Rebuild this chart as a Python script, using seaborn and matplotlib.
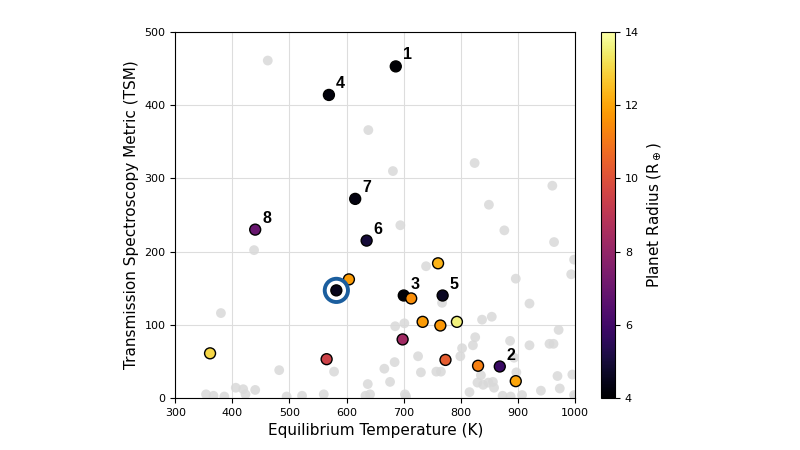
import numpy as np
import pandas as pd
import matplotlib
matplotlib.use("Agg")
import matplotlib.pyplot as plt
import seaborn as sns
from matplotlib.colors import Normalize

# Background planets (grey)
bg_teq = [462, 638, 681, 824, 960, 849, 694, 876, 963, 998, 739, 896, 993, 438,
          767, 920, 837, 854, 685, 701, 886, 971, 825, 821, 802, 799, 920, 955,
          962, 380, 482, 578, 725, 684, 666, 676, 637, 730, 757, 765, 835, 897,
          893, 829, 839, 856, 858, 848, 940, 969, 973, 995, 354, 367, 386, 406,
          419, 423, 440, 495, 522, 560, 633, 641, 702, 704, 815, 873, 887, 907,
          998, 1000]
bg_tsm = [461, 366, 310, 321, 290, 264, 236, 229, 213, 189, 180, 163, 169, 202,
          130, 129, 107, 111, 98, 102, 78, 93, 83, 72, 68, 57, 72, 74,
          74, 116, 38, 36, 57, 49, 40, 22, 19, 35, 36, 36, 31, 35,
          55, 21, 18, 22, 14, 21, 10, 30, 13, 32, 5, 3, 2, 14,
          12, 5, 11, 2, 3, 5, 3, 5, 5, 2, 8, 3, 2, 4,
          4, 2]

# Highlighted planets, coloured by radius
sel_teq = [686, 868, 700, 569, 768, 635, 615, 440, 582,
           760, 604, 713, 733, 764, 793, 698, 361, 565, 773, 830, 896]
sel_tsm = [453, 43, 140, 414, 140, 215, 272, 230, 147,
           184, 162, 136, 104, 99, 104, 80, 61, 53, 52, 44, 23]
sel_rad = [4.0, 5.8, 4.1, 4.2, 4.6, 5.0, 4.3, 6.9, 4.5,
           12.3, 11.8, 11.5, 11.8, 11.7, 13.6, 8.3, 13.0, 9.5, 10.3, 11.2, 12.0]
sel_lbl = ["1", "2", "3", "4", "5", "6", "7", "8", "",
           "", "", "", "", "", "", "", "", "", "", "", ""]

# Target planet (ringed)
target_teq = [582]
target_tsm = [147]

bg = pd.DataFrame({"teq": bg_teq, "tsm": bg_tsm})
sel = pd.DataFrame({"teq": sel_teq, "tsm": sel_tsm, "rad": sel_rad, "lbl": sel_lbl})

fig = plt.figure(figsize=(8, 4.5), dpi=100)
ax = fig.add_axes([0.219, 0.1156, 0.5, 0.8133])

sns.scatterplot(data=bg, x="teq", y="tsm", color="#d9d9d9", s=50,
                edgecolor="none", alpha=0.85, ax=ax, zorder=2)
sns.scatterplot(data=sel, x="teq", y="tsm", hue="rad", palette="inferno",
                hue_norm=(4, 14), s=62, edgecolor="black", linewidth=1,
                legend=False, ax=ax, zorder=3)
ax.scatter(target_teq, target_tsm, s=280, facecolor="none",
           edgecolor="#1b5e9e", linewidth=2.8, zorder=4)

# numeri delle etichette
for _, r in sel.iterrows():
    if r["lbl"]:
        ax.annotate(r["lbl"], (r["teq"], r["tsm"]), xytext=(5, 5),
                    textcoords="offset points", fontsize=11.5, fontweight="bold",
                    family=["Liberation Sans", "DejaVu Sans"])

ax.set_xlim(300, 1000)
ax.set_ylim(0, 500)
ax.grid(True, color="#dddddd", linewidth=0.8)
ax.set_axisbelow(True)
ax.tick_params(labelsize=8)
ax.set_xlabel("Equilibrium Temperature (K)", fontsize=11)
ax.set_ylabel("Transmission Spectroscopy Metric (TSM)", fontsize=11)

cax = fig.add_axes([0.751, 0.1156, 0.018, 0.8133])
sm = plt.cm.ScalarMappable(norm=Normalize(4, 14), cmap="inferno")
cb = fig.colorbar(sm, cax=cax)
cb.set_ticks([4, 6, 8, 10, 12, 14])
cb.ax.tick_params(labelsize=8)
cb.set_label(r"Planet Radius (R$_\oplus$)", fontsize=11)

fig.savefig("out.png", dpi=100)
